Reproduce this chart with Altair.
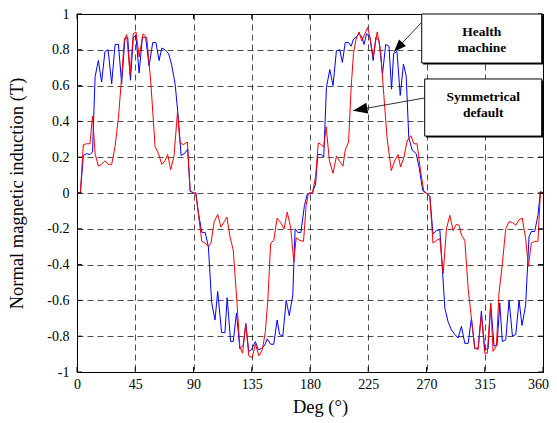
import altair as alt
import pandas as pd

# ---- data ----
blue_deg = [0, 2.6, 4.9, 7.5, 10, 12, 14, 16.5, 19, 21.6, 24, 26.8, 29.4, 32, 34.5, 37, 39.2, 41.3, 43.5, 45.5,
            48, 50.5, 53, 55.7, 58.5, 61, 63.4, 65.5, 68, 70.7, 73, 75.8, 78.4, 80.4, 83, 85.5, 87.4,
            90, 91.8, 93.8, 96.4, 99, 101.5, 104, 106.6, 108.7, 111.7, 114.3, 116, 118.7, 120.7, 123.2, 125.8,
            128.4, 130.4, 132.7, 134.8, 137.8, 140, 142.4, 145, 147, 149.6, 152, 154.6, 156.5, 159, 161.6, 164,
            166.7, 168.5, 170.5, 173, 175.7, 178,
            180, 181.8, 184.3, 186, 188.6, 190.6, 192.7, 195.3, 197.8, 200.4, 203, 205, 207.2, 209.8, 211.8,
            213.6, 215.6, 217.9, 220, 221.7, 223.7, 226.3, 228.8, 230.9, 233.4, 236, 238.5, 241, 243, 244.6,
            247.2, 249.7, 252.2, 254.3, 256.3, 258.9, 262, 264.5, 267,
            270, 272.6, 275, 277.7, 280.3, 282.4, 284.2, 286.7, 289.3, 291.9, 294.4, 297, 299.6, 302.2, 304.7,
            307.3, 309.9, 312.4, 315, 317.6, 319.6, 322.2, 324.5, 326.6, 328.6, 331.2, 333.8, 336.4, 339, 341.5,
            343.8, 346.6, 349.2, 351, 353.6, 356.1, 358, 360]
blue_val = [0, 0, 0.21, 0.22, 0.215, 0.23, 0.65, 0.74, 0.62, 0.79, 0.8, 0.61, 0.83, 0.83, 0.61, 0.86, 0.87, 0.63, 0.87, 0.88,
            0.67, 0.87, 0.87, 0.71, 0.84, 0.84, 0.74, 0.81, 0.8, 0.78, 0.72, 0.61, 0.41, 0.21, 0.22, 0.245, 0.01,
            0, 0, -0.11, -0.22, -0.22, -0.3, -0.61, -0.71, -0.55, -0.78, -0.78, -0.585, -0.83, -0.83, -0.67, -0.87,
            -0.85, -0.73, -0.885, -0.875, -0.83, -0.875, -0.87, -0.85, -0.815, -0.845, -0.845, -0.71, -0.79, -0.8, -0.6, -0.685,
            -0.57, -0.2, -0.22, -0.22, -0.07, -0.005,
            0, 0, 0.05, 0.215, 0.215, 0.2, 0.59, 0.69, 0.6, 0.795, 0.8, 0.73, 0.84, 0.84, 0.82,
            0.86, 0.87, 0.89, 0.875, 0.83, 0.89, 0.87, 0.74, 0.87, 0.85, 0.665, 0.83, 0.82, 0.58, 0.78,
            0.79, 0.545, 0.72, 0.655, 0.31, 0.24, 0.22, 0.135, 0.015,
            0, -0.02, -0.23, -0.21, -0.205, -0.44, -0.645, -0.72, -0.765, -0.79, -0.81, -0.745, -0.84, -0.84, -0.7,
            -0.87, -0.865, -0.66, -0.875, -0.87, -0.62, -0.855, -0.85, -0.615, -0.83, -0.82, -0.6, -0.8, -0.79, -0.6,
            -0.74, -0.625, -0.245, -0.215, -0.215, -0.125, 0.007, 0]

red_deg = [0, 2.6, 4.9, 7.5, 10, 12, 14, 16.5, 19, 21.6, 24, 26.8, 29.4, 32, 34.5, 36.6, 38.4, 41, 43.5, 45.6,
           48, 51, 53.9, 57, 60.3, 62.9, 65.5, 68, 70, 72.4, 75, 77.6, 79.6, 82.2, 85.3, 87.4,
           90, 91.8, 93.8, 96.4, 99, 101.5, 103.5, 106, 108.7, 111.2, 113.8, 115.8, 118.1, 120.7, 123.2, 125.8,
           127.9, 130.4, 132.7, 135.3, 137.8, 140.6, 143.2, 145.5, 147.5, 149.6, 152, 154.6, 157.3, 160, 162.4,
           165, 167.5, 169.3, 172, 175, 177, 178.7,
           180, 181.8, 184.3, 186.4, 188.9, 190.6, 192.5, 195, 197.8, 200.4, 203, 205.5, 207.2, 209.8, 211.8,
           213.6, 215.6, 217.9, 220, 222.5, 224.5, 226.3, 228.8, 231.9, 234.5, 237, 239.5, 242.8, 245.4, 248,
           250, 252.6, 255, 258, 260.2, 262.7, 265.2, 268,
           270, 272.6, 275, 277.7, 280.3, 282.9, 285.4, 288, 290.6, 293.1, 295.2, 297, 299.6, 302.2, 304.7,
           307.3, 309.9, 312.4, 315, 317, 319.6, 321.4, 324, 326, 328.6, 331.2, 333.8, 336.4, 339, 341.5, 344,
           346.6, 348.7, 351, 353.6, 356.1, 358, 360]
red_val = [0, 0, 0.27, 0.275, 0.275, 0.43, 0.22, 0.15, 0.16, 0.18, 0.16, 0.16, 0.26, 0.42, 0.65, 0.86, 0.885, 0.66, 0.89, 0.9,
           0.76, 0.89, 0.87, 0.62, 0.26, 0.22, 0.16, 0.18, 0.215, 0.13, 0.21, 0.45, 0.28, 0.27, 0.285, 0.015,
           0, 0, -0.12, -0.27, -0.28, -0.3, -0.28, -0.16, -0.12, -0.19, -0.16, -0.135, -0.24, -0.32, -0.57, -0.86,
           -0.895, -0.73, -0.91, -0.92, -0.845, -0.91, -0.875, -0.775, -0.59, -0.28, -0.265, -0.14, -0.165, -0.2, -0.107,
           -0.19, -0.385, -0.25, -0.265, -0.27, -0.07, -0.005,
           0, 0, 0.09, 0.28, 0.27, 0.255, 0.37, 0.18, 0.11, 0.205, 0.175, 0.15, 0.24, 0.285, 0.59,
           0.78, 0.86, 0.9, 0.85, 0.89, 0.925, 0.87, 0.76, 0.9, 0.795, 0.55, 0.31, 0.125, 0.18, 0.215,
           0.145, 0.2, 0.29, 0.32, 0.275, 0.275, 0.135, 0.005,
           0, -0.02, -0.28, -0.265, -0.255, -0.45, -0.2, -0.125, -0.21, -0.175, -0.18, -0.235, -0.265, -0.535, -0.7,
           -0.865, -0.875, -0.68, -0.895, -0.895, -0.615, -0.885, -0.855, -0.56, -0.395, -0.2, -0.16, -0.165, -0.18, -0.15, -0.14,
           -0.255, -0.41, -0.28, -0.27, -0.27, 0.007, 0]

x_ticks = [0, 45, 90, 135, 180, 225, 270, 315, 360]
y_ticks = [-1, -0.8, -0.6, -0.4, -0.2, 0, 0.2, 0.4, 0.6, 0.8, 1]

# annotation boxes (data coordinates)
box_x = [266.3, 268.6]
box_x2 = [359.0, 359.0]
box_y = [1.0, 0.637]
box_y2 = [0.726, 0.318]
label_text = ["Health", "machine", "Symmetrical", "default"]
label_x = [312.7, 312.7, 313.8, 313.8]
label_y = [0.9, 0.812, 0.535, 0.447]
arrow_from_x = [265.8, 268.6]
arrow_from_y = [0.95, 0.531]
arrow_to_x = [244.9, 213.2]
arrow_to_y = [0.789, 0.46]
arrow_angle = [223, 260]
arrow_size = [620, 850]

blue_df = pd.DataFrame({"deg": blue_deg, "val": blue_val, "i": range(len(blue_deg))})
red_df = pd.DataFrame({"deg": red_deg, "val": red_val, "i": range(len(red_deg))})
box_df = pd.DataFrame({"x": box_x, "x2": box_x2, "y": box_y, "y2": box_y2})
lab_df = pd.DataFrame({"t": label_text, "x": label_x, "y": label_y})
arr_df = pd.DataFrame({"x": arrow_from_x, "y": arrow_from_y, "x2": arrow_to_x, "y2": arrow_to_y,
                       "a": arrow_angle, "s": arrow_size})
xt_df = pd.DataFrame({"v": x_ticks})
yt_df = pd.DataFrame({"v": y_ticks})

W, H = 466, 358
TL = 5  # inward tick length
FONT = "Liberation Serif"
xs = alt.Scale(domain=[0, 360], nice=False, zero=False)
ys = alt.Scale(domain=[-1, 1], nice=False, zero=False)

x_axis = alt.Axis(values=x_ticks, tickCount=20, title="Deg (°)", grid=True, ticks=False, labelPadding=5,
                  titleX=W / 2 + 10, titleY=25, titleBaseline="top", titleAlign="center",
                  labelFlush=False, labelOverlap=False, labelBound=False,
                  labelOffset={"condition": {"test": "datum.value == 360", "value": -5}, "value": 0})
y_axis = alt.Axis(values=y_ticks, tickCount=20, title="Normal magnetic induction (T)", grid=True, ticks=False,
                  labelPadding=8, titlePadding=20, labelFlush=False, labelOverlap=False,
                  labelExpr="toString(round(datum.value*10)/10)")

blue = alt.Chart(blue_df).mark_line(color="#0000ff", strokeWidth=1).encode(
    x=alt.X("deg:Q", scale=xs, axis=x_axis),
    y=alt.Y("val:Q", scale=ys, axis=y_axis),
    order="i:Q",
)
red = alt.Chart(red_df).mark_line(color="#ff0000", strokeWidth=1).encode(
    x=alt.X("deg:Q", scale=xs),
    y=alt.Y("val:Q", scale=ys),
    order="i:Q",
)
# inward ticks on all four sides
tick_left = alt.Chart(yt_df).mark_rule(color="black", strokeWidth=1).encode(
    y=alt.Y("v:Q", scale=ys), x=alt.value(0), x2=alt.value(TL))
tick_right = alt.Chart(yt_df).mark_rule(color="black", strokeWidth=1).encode(
    y=alt.Y("v:Q", scale=ys), x=alt.value(W), x2=alt.value(W - TL))
tick_bottom = alt.Chart(xt_df).mark_rule(color="black", strokeWidth=1).encode(
    x=alt.X("v:Q", scale=xs), y=alt.value(H), y2=alt.value(H - TL))
tick_top = alt.Chart(xt_df).mark_rule(color="black", strokeWidth=1).encode(
    x=alt.X("v:Q", scale=xs), y=alt.value(0), y2=alt.value(TL))

shadow = alt.Chart(box_df).mark_rect(fill="black", xOffset=1.5, yOffset=1.5, x2Offset=1.5, y2Offset=1.5).encode(
    x=alt.X("x:Q", scale=xs), x2="x2:Q", y=alt.Y("y:Q", scale=ys), y2="y2:Q")
boxes = alt.Chart(box_df).mark_rect(fill="white", stroke="black", strokeWidth=1).encode(
    x=alt.X("x:Q", scale=xs), x2="x2:Q", y=alt.Y("y:Q", scale=ys), y2="y2:Q")
labels = alt.Chart(lab_df).mark_text(font=FONT, fontSize=13.5, fontWeight="bold", color="black",
                                     align="center", baseline="middle").encode(
    x=alt.X("x:Q", scale=xs), y=alt.Y("y:Q", scale=ys), text="t:N")
shafts = alt.Chart(arr_df).mark_rule(color="black", strokeWidth=0.8).encode(
    x=alt.X("x:Q", scale=xs), y=alt.Y("y:Q", scale=ys), x2="x2:Q", y2="y2:Q")
heads = alt.Chart(arr_df).mark_point(shape="M0,0 L0.38,1 L-0.38,1 Z", filled=True, color="black",
                                     opacity=1, strokeWidth=0).encode(
    x=alt.X("x2:Q", scale=xs), y=alt.Y("y2:Q", scale=ys),
    angle=alt.Angle("a:Q", scale=None), size=alt.Size("s:Q", scale=None))

chart = alt.layer(blue, red, tick_left, tick_right, tick_bottom, tick_top,
                  shadow, boxes, labels, shafts, heads).properties(
    width=W, height=H,
    autosize=alt.AutoSizeParams(type="none"),
    padding={"left": 69, "top": 6, "right": 6, "bottom": 45},
).configure_view(stroke="black", strokeWidth=1).configure_axis(
    labelFont=FONT, titleFont=FONT, labelFontSize=14, titleFontSize=18.5, titleFontWeight="normal",
    labelColor="black", titleColor="black", domainColor="black", domainWidth=1,
    gridColor="black", gridDash=[6, 4], gridWidth=0.7, gridOpacity=1,
)

chart.save("out.html", embed_options={"renderer": "svg", "actions": False})
